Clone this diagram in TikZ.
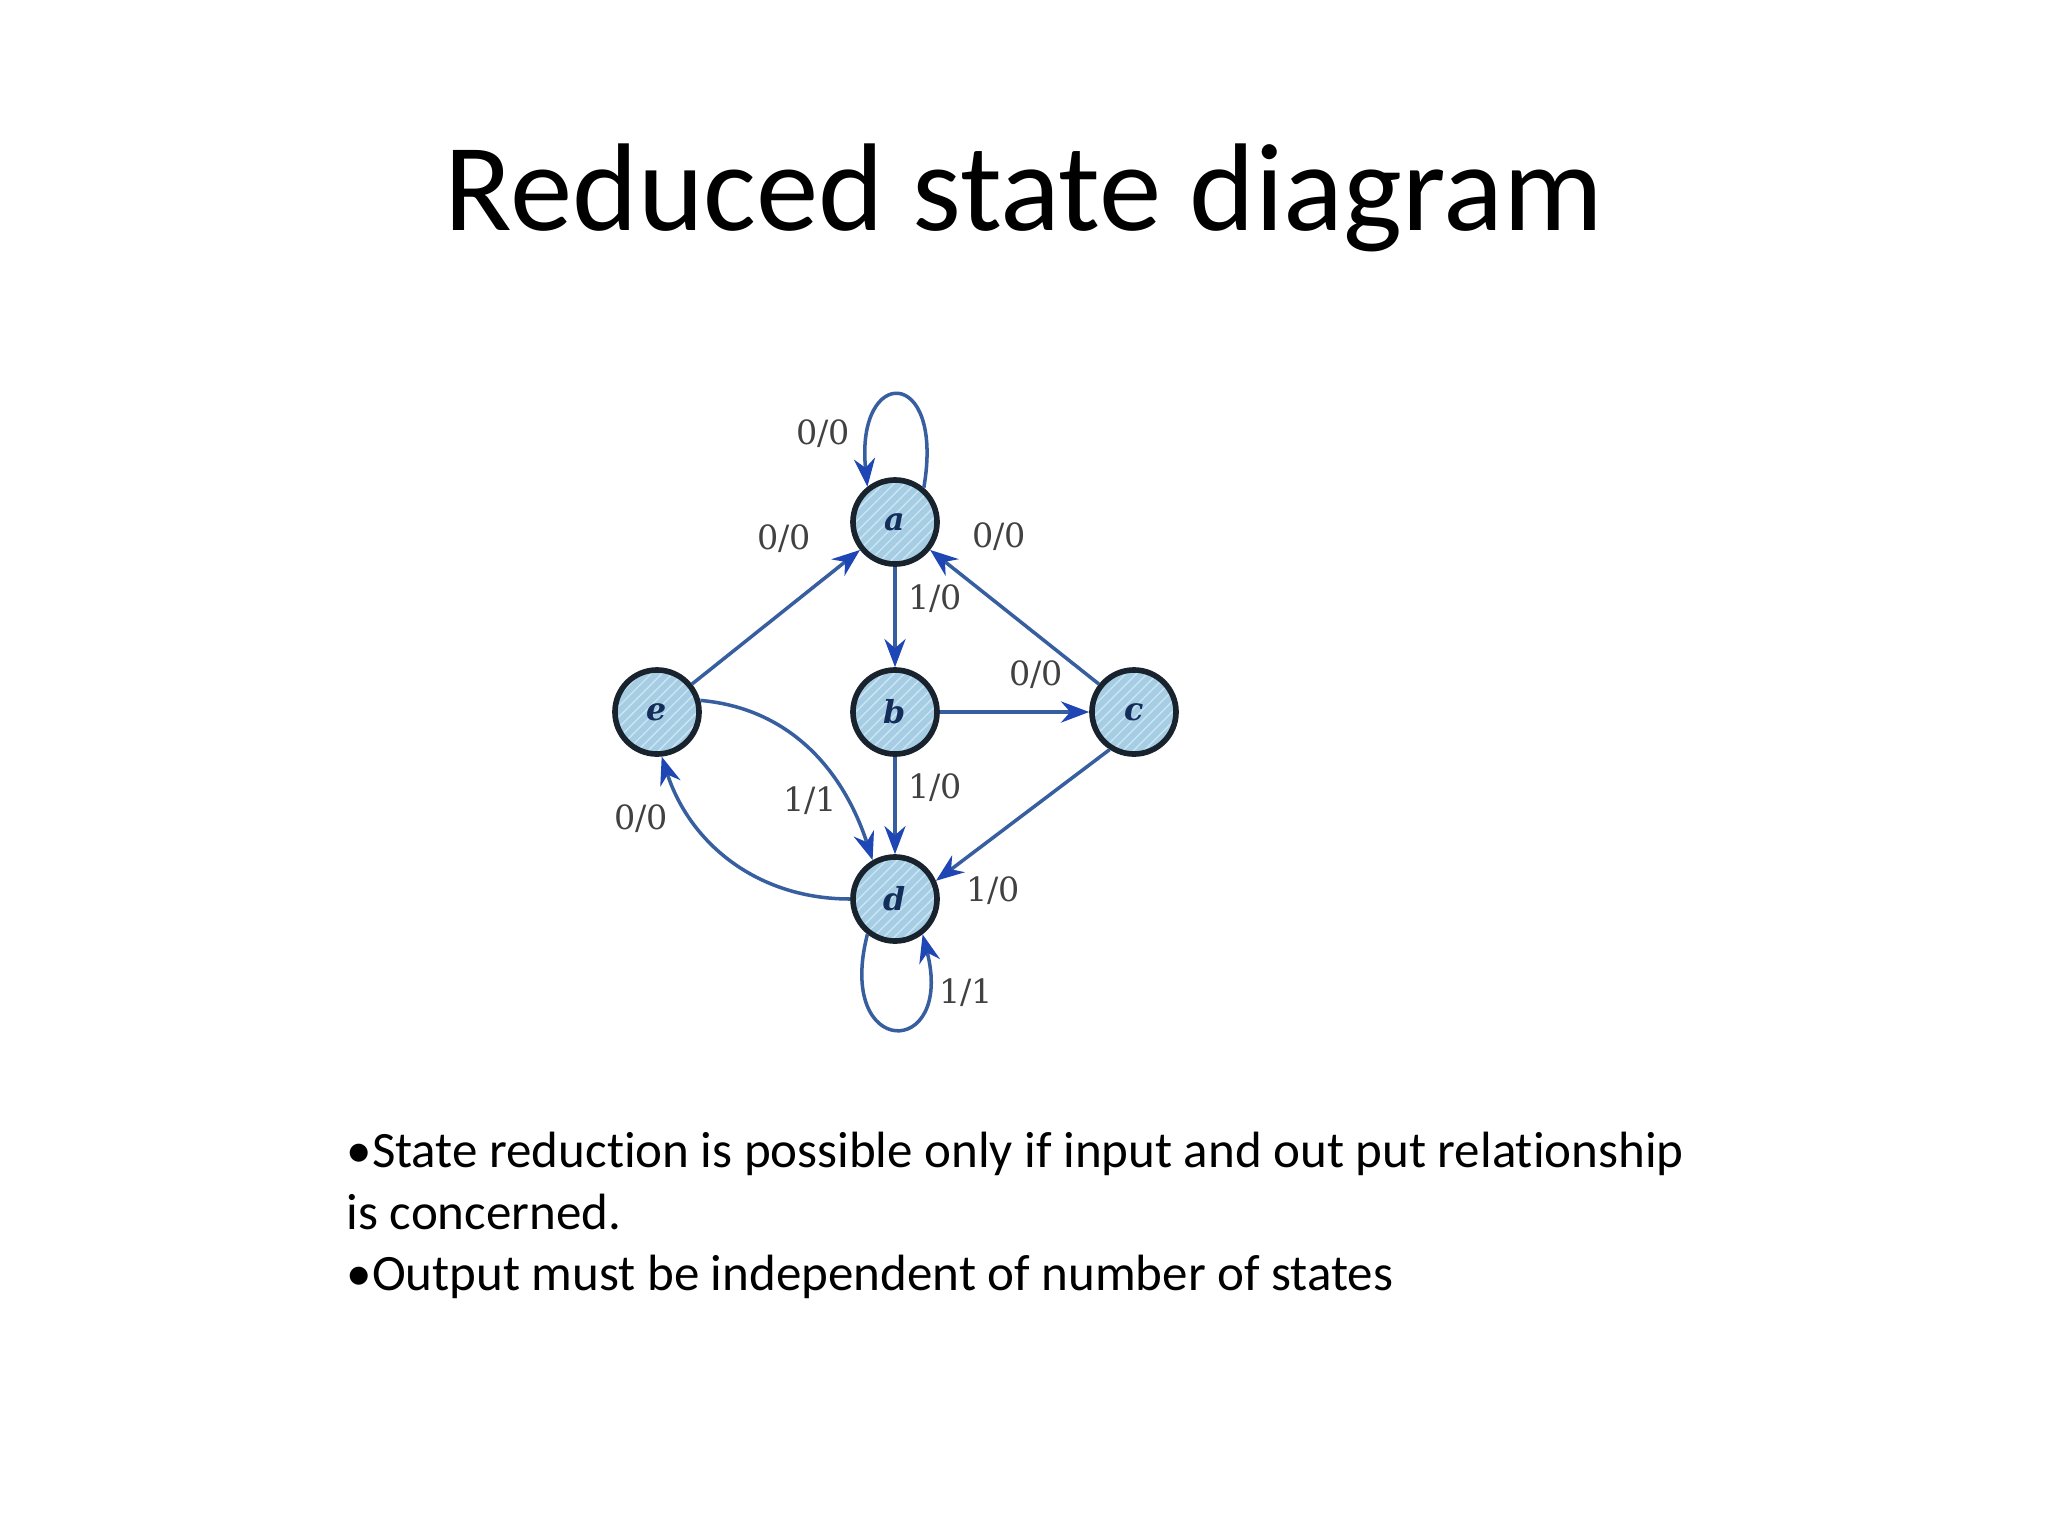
\documentclass[tikz,border=0pt]{standalone}
\usepackage{fontspec}
\setmainfont[Ligatures=NoCommon]{Carlito}
\newfontfamily\labfont{DejaVu Serif}
\usetikzlibrary{arrows.meta,patterns}
\definecolor{edgecol}{RGB}{55,95,160}
\definecolor{tipcol}{RGB}{30,70,180}
\definecolor{nodeborder}{RGB}{25,35,45}
\definecolor{nodefill}{RGB}{165,205,228}
\definecolor{hatchcol}{RGB}{205,228,242}
\definecolor{labcol}{RGB}{65,65,65}
\definecolor{lettercol}{RGB}{20,45,90}
\begin{document}
\begin{tikzpicture}[x=0.01cm,y=-0.01cm,
  state/.style={circle, draw=nodeborder, line width=1.6pt, preaction={fill=nodefill}, pattern=north east lines, pattern color=hatchcol, minimum size=0.84cm, inner sep=0pt, text=lettercol, font=\labfont\bfseries\itshape\fontsize{9}{10}\selectfont},
  edge/.style={draw=edgecol, line width=1pt, -{Stealth[length=8pt,width=6pt,color=tipcol]}},
  lab/.style={font=\labfont\fontsize{9.5}{11}\selectfont, text=labcol, inner sep=0pt},
  bodytext/.style={font=\fontsize{14.5}{17}\selectfont, anchor=base west, inner sep=0pt}]
\useasboundingbox (0,0) rectangle (2048,1536);
\fill[white] (0,0) rectangle (2048,1536);
\node[font=\fontsize{35.5}{41}\selectfont, anchor=base, inner sep=0pt] (title) at (1024,230) {Reduced state diagram};

\node[state] (a) at (895,522) {a};
\node[state] (b) at (895,712) {b};
\node[state] (c) at (1134,712) {c};
\node[state] (e) at (657,712) {e};
\node[state] (d) at (895,899) {d};

\draw[edge] (a.50) .. controls (945,365) and (855,365) .. (a.128);
\draw[edge] (e) -- (a);
\draw[edge] (c) -- (a);
\draw[edge] (a) -- (b);
\draw[edge] (b) -- (c);
\draw[edge] (b) -- (d);
\draw[edge] (c.237) -- (d.24);
\draw[edge] (e.15) to[out=-5,in=108] (d.120);
\draw[edge] (d.180) to[out=180,in=-72] (e.-84);
\draw[edge] (d.232) .. controls (835,1060) and (955,1060) .. (d.-52);

\node[lab] (l1) at (823,434) {0/0};
\node[lab] (l2) at (784,539) {0/0};
\node[lab] (l3) at (999,537) {0/0};
\node[lab] (l4) at (935,599) {1/0};
\node[lab] (l5) at (1036,675) {0/0};
\node[lab] (l6) at (935,788) {1/0};
\node[lab] (l7) at (810,801) {1/1};
\node[lab] (l8) at (641,819) {0/0};
\node[lab] (l9) at (993,891) {1/0};
\node[lab] (l10) at (966,993) {1/1};

\node[bodytext] (t1) at (346,1167) {•State reduction is possible only if input and out put relationship};
\node[bodytext] (t2) at (346,1229) {is concerned.};
\node[bodytext] (t3) at (346,1290) {•Output must be independent of number of states};
\end{tikzpicture}
\end{document}
